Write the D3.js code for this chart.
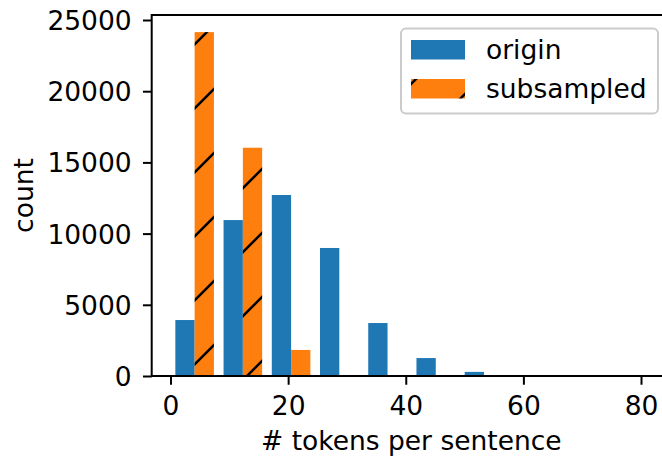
<!DOCTYPE html>
<html>
<head>
<meta charset="utf-8">
<script src="https://cdn.jsdelivr.net/npm/d3@7"></script>
<style>
  html, body { margin: 0; padding: 0; background: #fff; }
  svg { display: block; font-family: "DejaVu Sans", sans-serif; }
</style>
</head>
<body>
<svg id="chart" width="662" height="457"></svg>
<script>
// ---- data ----
const binStarts = [0, 8.2, 16.4, 24.6, 32.8, 41.0, 49.2, 57.4, 65.6, 73.8];
const binWidth = 8.2;
const seriesNames = ["origin", "subsampled"];
const originCounts = [3930, 10950, 12710, 8990, 3720, 1260, 290, 60, 10, 3];
const subsampledCounts = [24150, 16030, 1830, 70, 5, 0, 0, 0, 0, 0];
const xTicks = [0, 20, 40, 60, 80];
const yTicks = [0, 5000, 10000, 15000, 20000, 25000];
const xLabel = "# tokens per sentence";
const yLabel = "count";

// ---- layout ----
const svg = d3.select("#chart");
const mLeft = 151.7, mRight = 671, mTop = 15, mBottom = 376;
const x = d3.scaleLinear().domain([-3.2, 85.1]).range([mLeft, mRight]);
const y = d3.scaleLinear().domain([0, 25351]).range([mBottom, mTop]);
const colors = ["#1f77b4", "#ff7f0e"];
const fs = 26.5;

// hatch pattern (matplotlib '/'), anchored in absolute pixels
const defs = svg.append("defs");
const pat = defs.append("pattern").attr("id", "hatch")
  .attr("patternUnits", "userSpaceOnUse")
  .attr("width", 64).attr("height", 64);
pat.append("rect").attr("width", 64).attr("height", 64).attr("fill", colors[1]);
pat.append("path").attr("d", "M-3,50 L50,-3 M44,67 L67,44")
  .attr("stroke", "#000").attr("stroke-width", 2.6).attr("fill", "none");

defs.append("clipPath").attr("id", "axclip").append("rect")
  .attr("x", mLeft).attr("y", mTop).attr("width", mRight - mLeft).attr("height", mBottom - mTop);

// ---- bars ----
const barW = 0.8 * binWidth / 2;
const series = [originCounts, subsampledCounts];
const gBars = svg.append("g").attr("clip-path", "url(#axclip)");
series.forEach((vals, si) => {
  gBars.selectAll(null).data(vals).enter().append("rect")
    .attr("x", (d, i) => x(binStarts[i] + 0.1 * binWidth + si * barW))
    .attr("width", (d, i) => x(binStarts[i] + 0.1 * binWidth + (si + 1) * barW) - x(binStarts[i] + 0.1 * binWidth + si * barW))
    .attr("y", d => y(d))
    .attr("height", d => y(0) - y(d))
    .attr("fill", si === 1 ? "url(#hatch)" : colors[0]);
});

// ---- axes ----
const xAxis = d3.axisBottom(x).tickValues(xTicks).tickSize(8.75).tickPadding(10).tickFormat(d3.format("d"));
const gx = svg.append("g").attr("transform", `translate(0,${mBottom})`).call(xAxis);
gx.select(".domain").remove();
gx.selectAll(".tick line").attr("stroke", "#000").attr("stroke-width", 2);
gx.selectAll(".tick text").attr("font-size", fs).attr("fill", "#000")
  .attr("font-family", "DejaVu Sans").attr("dy", null).attr("y", 39);

const yAxis = d3.axisLeft(y).tickValues(yTicks).tickSize(8.75).tickPadding(10).tickFormat(d3.format("d"));
const gy = svg.append("g").attr("transform", `translate(${mLeft},0)`).call(yAxis);
gy.select(".domain").remove();
gy.selectAll(".tick line").attr("stroke", "#000").attr("stroke-width", 2);
gy.selectAll(".tick text").attr("font-size", fs).attr("fill", "#000")
  .attr("font-family", "DejaVu Sans").attr("dy", null).attr("y", 9.5).attr("x", -20);

// spines
svg.append("rect").attr("x", mLeft).attr("y", mTop).attr("width", mRight - mLeft).attr("height", mBottom - mTop)
  .attr("fill", "none").attr("stroke", "#000").attr("stroke-width", 2);

// axis labels
svg.append("text").attr("x", (mLeft + mRight) / 2).attr("y", 450).attr("text-anchor", "middle")
  .attr("font-size", fs).attr("fill", "#000").text(xLabel);
svg.append("text").attr("transform", `translate(33,${(mTop + mBottom) / 2}) rotate(-90)`)
  .attr("text-anchor", "middle").attr("font-size", fs).attr("fill", "#000").text(yLabel);

// ---- legend ----
const lg = svg.append("g");
lg.append("rect").attr("x", 401).attr("y", 28.5).attr("width", 257).attr("height", 85).attr("rx", 5)
  .attr("fill", "#fff").attr("fill-opacity", 0.8).attr("stroke", "#cccccc").attr("stroke-width", 2);
const legY = [40, 79];
seriesNames.forEach((name, i) => {
  lg.append("rect").attr("x", 411).attr("y", legY[i]).attr("width", 54).attr("height", 19.5)
    .attr("fill", i === 1 ? "url(#hatch)" : colors[0]);
  lg.append("text").attr("x", 486).attr("y", legY[i] + 19).attr("font-size", fs).attr("fill", "#000").text(name);
});
</script>
</body>
</html>
